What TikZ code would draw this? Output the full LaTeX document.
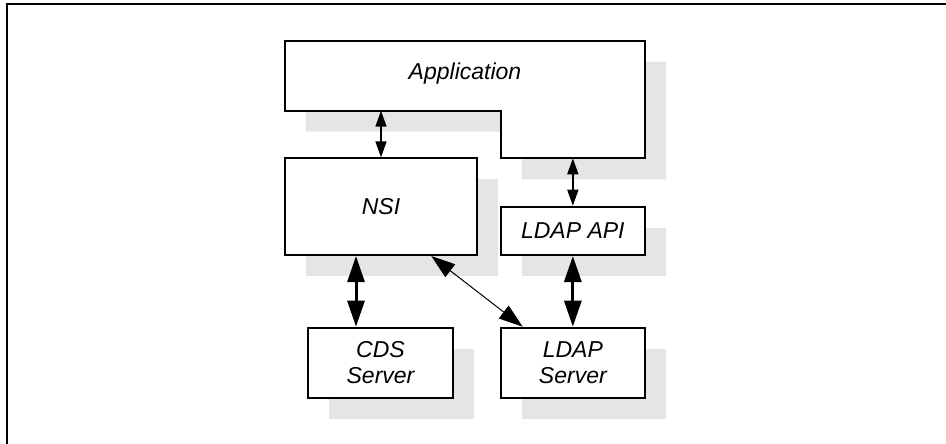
\documentclass[tikz,border=0pt]{standalone}
\usepackage{fontspec}
\setmainfont{Liberation Sans}
\usepackage{tikz}
\usetikzlibrary{arrows.meta,shadows}

\begin{document}
\begin{tikzpicture}[x=1pt,y=-1pt,font=\fontsize{23}{26}\selectfont\itshape]
	\tikzstyle{box} = [draw=black, line width=2pt, fill=white, inner sep=0pt,
		drop shadow={shadow xshift=21pt, shadow yshift=-21pt, fill=black!10, opacity=1}]
	\tikzstyle{thin arrow} = [line width=1.6pt, {Triangle[length=16pt,width=11pt]}-{Triangle[length=16pt,width=11pt]}]
	\tikzstyle{thick arrow} = [line width=3pt, {Triangle[length=26pt,width=17pt]}-{Triangle[length=26pt,width=17pt]}]
	\tikzstyle{slant arrow} = [line width=1pt, {Triangle[length=24pt,width=16pt]}-{Triangle[length=24pt,width=16pt]}]
	\useasboundingbox (0,0) rectangle (946,444);
	% frame
	\draw[line width=2pt] (7,444) -- (7,4) -- (946,4);
	% application (L-shaped)
	\draw[box] (284.7,40.7) -- (645,40.7) -- (645,158.3) -- (500.7,158.3)
		-- (500.7,110.7) -- (284.7,110.7) -- cycle;
	\coordinate (appnotch) at (380,110.7);
	\coordinate (appcorner) at (645,158.3);
	\node[] (app) at (465,74) {Application};

	\node[box, minimum width=192.6pt, minimum height=96.7pt] (nsi) at (381,206.7) {NSI};
	\node[box, minimum width=144.3pt, minimum height=48.3pt] (api) at (572.85,230.85) {LDAP API};
	\node[box, minimum width=145.6pt, minimum height=70.6pt, align=center] (cds) at (380.5,363) {CDS\\Server};
	\node[box, minimum width=144.3pt, minimum height=70.6pt, align=center] (srv) at (572.85,363) {LDAP\\Server};

	\draw[thin arrow] (nsi.north |- appnotch) -- (nsi.north);
	\draw[thin arrow] (api.north |- appcorner) -- (api.north);
	\draw[thick arrow] ([xshift=-25pt]nsi.south) -- ([xshift=-25pt]nsi.south |- cds.north);
	\draw[thick arrow] (api.south) -- (srv.north);
	\draw[slant arrow] ([xshift=-47pt]nsi.south east) -- ([xshift=23pt]srv.north west);
\end{tikzpicture}
\end{document}
